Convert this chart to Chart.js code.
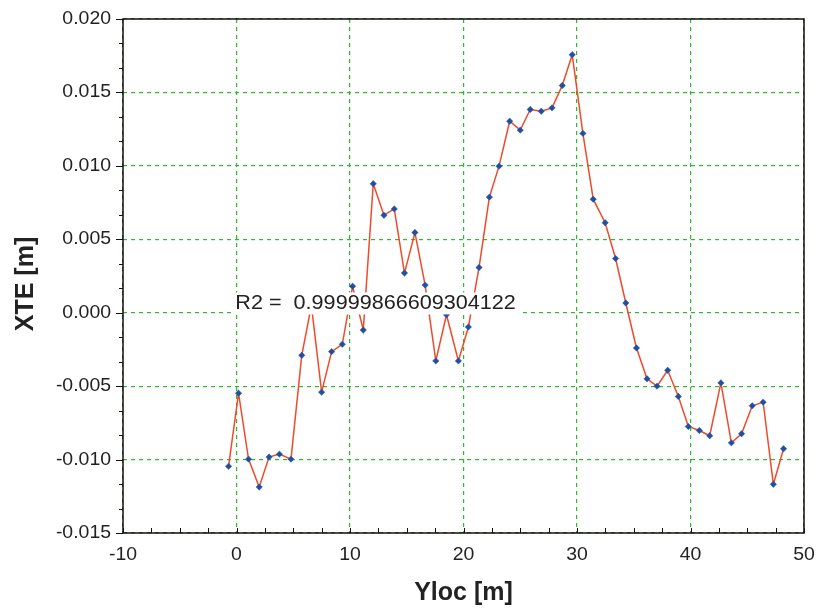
<!DOCTYPE html>
<html>
<head>
<meta charset="utf-8">
<script src="https://cdn.jsdelivr.net/npm/chart.js@4.4.0/dist/chart.umd.min.js"></script>
<style>
  html, body { margin: 0; padding: 0; background: #fff; }
  #wrap { width: 823px; height: 610px; }
</style>
</head>
<body>
<div id="wrap"><canvas id="xteChart" width="823" height="610"></canvas></div>
<script>
// values
const yloc = [-0.7, 0.18, 1.06, 2.0, 2.87, 3.78, 4.8, 5.75, 6.6, 7.5,
              8.38, 9.32, 10.23, 11.17, 12.05, 12.99, 13.9, 14.8, 15.72, 16.62,
              17.56, 18.5, 19.55, 20.43, 21.37, 22.28, 23.13, 24.07, 25.0, 25.88,
              26.85, 27.8, 28.7, 29.58, 30.52, 31.43, 32.48, 33.4, 34.3, 35.24,
              36.17, 37.05, 37.99, 38.93, 39.81, 40.78, 41.69, 42.68, 43.6, 44.5,
              45.44, 46.4, 47.3, 48.2];
const xte = [-0.01046, -0.00548, -0.00997, -0.01187, -0.00983, -0.00963, -0.00997, -0.0029, 0.0005, -0.00541,
             -0.00265, -0.00215, 0.0018, -0.00118, 0.00878, 0.00664, 0.00707, 0.0027, 0.00546, 0.00188,
             -0.00328, -0.00014, -0.00328, -0.00097, 0.00308, 0.00787, 0.00998, 0.01304, 0.01243, 0.01384,
             0.01372, 0.01395, 0.01547, 0.01757, 0.01221, 0.00773, 0.00613, 0.00369, 0.00066, -0.0024,
             -0.0045, -0.005, -0.00392, -0.00571, -0.00775, -0.00802, -0.00838, -0.00478, -0.00886, -0.00824,
             -0.00634, -0.00609, -0.01168, -0.00926];

const xRange = [-10, 50], xStep = 10, xMinor = 4;
const yRange = [-0.015, 0.020], yStep = 0.005, yMinor = 3;
const fitLabel = 'R2 =  0.99999866609304122';
const fitAt = [-0.1, 0.0007];   // where the label sits, in data units

const points = yloc.map((x, i) => ({ x: x, y: xte[i] }));
const textColor = '#222';
const stretch = 1.08;

function stretchedText(ctx, txt, x, y, align, font) {
    ctx.save();
    ctx.font = font;
    ctx.fillStyle = textColor;
    ctx.textAlign = align;
    ctx.textBaseline = 'middle';
    ctx.translate(x, y);
    ctx.scale(stretch, 1);
    ctx.fillText(txt, 0, 0);
    ctx.restore();
}

// white box with the fit result, drawn under the grid
const fitBox = {
    id: 'fitBox',
    afterDatasetsDraw(chart) {
        const ctx = chart.ctx;
        const px = chart.scales.x.getPixelForValue(fitAt[0]);
        const py = chart.scales.y.getPixelForValue(fitAt[1]);
        ctx.save();
        ctx.font = '20px "Liberation Sans", Arial, sans-serif';
        const w = ctx.measureText(fitLabel).width * stretch;
        ctx.fillStyle = '#fff';
        ctx.fillRect(px - 1, py - 10, w + 4, 22);
        ctx.restore();
        stretchedText(ctx, fitLabel, px, py + 1, 'left', '20px "Liberation Sans", Arial, sans-serif');
    }
};

// frame, tick marks, tick labels and axis titles
const axesDecor = {
    id: 'axesDecor',
    afterDraw(chart) {
        const ctx = chart.ctx;
        const area = chart.chartArea;
        const sx = chart.scales.x, sy = chart.scales.y;
        const tickFont = '18px "Liberation Sans", Arial, sans-serif';

        ctx.save();
        ctx.strokeStyle = '#111';
        ctx.lineWidth = 1.5;
        ctx.strokeRect(area.left, area.top, area.right - area.left, area.bottom - area.top);

        ctx.lineWidth = 1;
        ctx.beginPath();
        for (let v = xRange[0]; v <= xRange[1] + 1e-9; v += xStep / xMinor) {
            const p = Math.round(sx.getPixelForValue(v)) + 0.5;
            ctx.moveTo(p, area.bottom);
            ctx.lineTo(p, area.bottom - 5);
        }
        for (let k = 0; k <= (yRange[1] - yRange[0]) / yStep * yMinor + 0.5; k++) {
            const v = yRange[0] + k * yStep / yMinor;
            const p = Math.round(sy.getPixelForValue(v)) + 0.5;
            const len = (k % yMinor === 0) ? 7 : 4;
            ctx.moveTo(area.left, p);
            ctx.lineTo(area.left - len, p);
        }
        ctx.stroke();
        ctx.restore();

        sx.ticks.forEach(t => {
            stretchedText(ctx, String(Math.round(t.value)), sx.getPixelForValue(t.value), area.bottom + 22, 'center', tickFont);
        });
        sy.ticks.forEach(t => {
            stretchedText(ctx, t.value.toFixed(3), area.left - 12, sy.getPixelForValue(t.value), 'right', tickFont);
        });

        ctx.save();
        ctx.fillStyle = textColor;
        ctx.font = 'bold 25px "Liberation Sans", Arial, sans-serif';
        ctx.textAlign = 'center';
        ctx.textBaseline = 'middle';
        ctx.fillText('Yloc [m]', (area.left + area.right) / 2, 593);
        ctx.translate(26, 284);
        ctx.rotate(-Math.PI / 2);
        ctx.fillText('XTE [m]', 0, 0);
        ctx.restore();
    }
};

new Chart(document.getElementById('xteChart'), {
    type: 'scatter',
    data: {
        datasets: [{
            data: points,
            showLine: true,
            borderColor: '#f04a2a',
            borderWidth: 1.5,
            pointStyle: 'rectRot',
            pointRadius: 3.2,
            pointBackgroundColor: '#1f4f9e',
            pointBorderColor: '#2a5cb0',
            pointBorderWidth: 0.5
        }]
    },
    options: {
        responsive: false,
        animation: false,
        events: [],
        layout: { padding: { left: 0, right: 19, top: 19, bottom: 0 } },
        plugins: { legend: { display: false }, tooltip: { enabled: false } },
        scales: {
            x: {
                type: 'linear',
                min: xRange[0], max: xRange[1],
                z: 1,
                afterFit: s => { s.height = 77; },
                ticks: { stepSize: xStep, display: false },
                grid: { color: '#2fb82f', lineWidth: 1.2, drawTicks: false },
                border: { display: false, dash: [4, 4] }
            },
            y: {
                type: 'linear',
                min: yRange[0], max: yRange[1],
                z: 1,
                afterFit: s => { s.width = 123; },
                ticks: { stepSize: yStep, display: false },
                grid: { color: '#2fb82f', lineWidth: 1.2, drawTicks: false },
                border: { display: false, dash: [4, 4] }
            }
        }
    },
    plugins: [fitBox, axesDecor]
});
</script>
</body>
</html>
